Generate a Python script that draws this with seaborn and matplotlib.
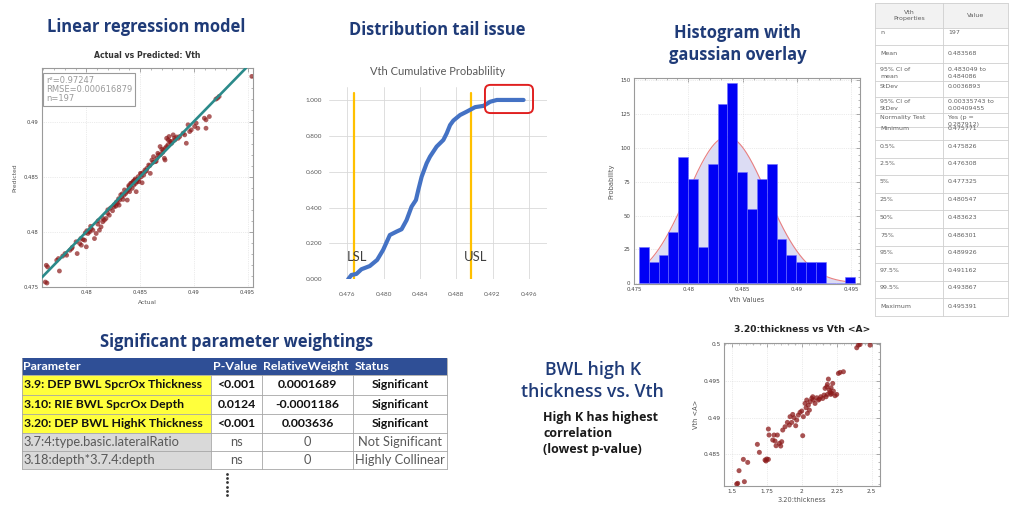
import numpy as np
import pandas as pd
import matplotlib
matplotlib.use("Agg")
import matplotlib.pyplot as plt
from matplotlib.patches import Rectangle, FancyBboxPatch
from matplotlib.ticker import MultipleLocator, FuncFormatter, AutoMinorLocator
import seaborn as sns

# ---------------- data ----------------
# Actual vs predicted Vth from the linear regression model
actual_vth = [
    0.47619, 0.47634, 0.47628, 0.47640, 0.47741, 0.47750, 0.47725, 0.47802, 0.47817, 0.47848,
    0.47863, 0.47915, 0.47939, 0.47954, 0.47970, 0.47985, 0.48000, 0.48015, 0.48031, 0.48046,
    0.48061, 0.48076, 0.48092, 0.48122, 0.48137, 0.48107, 0.48153, 0.48168, 0.48183, 0.48198,
    0.48214, 0.48244, 0.48259, 0.48275, 0.48290, 0.48305, 0.48311, 0.48329, 0.48342, 0.48351,
    0.48366, 0.48381, 0.48390, 0.48397, 0.48403, 0.48412, 0.48427, 0.48433, 0.48442, 0.48451,
    0.48458, 0.48464, 0.48473, 0.48482, 0.48488, 0.48503, 0.48512, 0.48519, 0.48534, 0.48549,
    0.48564, 0.48580, 0.48595, 0.48610, 0.48625, 0.48641, 0.48656, 0.48665, 0.48671, 0.48686,
    0.48702, 0.48717, 0.48726, 0.48732, 0.48747, 0.48747, 0.48763, 0.48769, 0.48778, 0.48793,
    0.48808, 0.48824, 0.48854, 0.48869, 0.48900, 0.48915, 0.48930, 0.48946, 0.48961, 0.48976,
    0.49007, 0.49022, 0.49037, 0.49098, 0.49113, 0.49113, 0.49144, 0.49205, 0.49220, 0.49235,
    0.49539, 0.47990, 0.48005, 0.48020, 0.48040, 0.48110, 0.48150, 0.48200, 0.48225, 0.48260,
    0.48280, 0.48300, 0.48320, 0.48335, 0.48355, 0.48375, 0.48395, 0.48405, 0.48420, 0.48440,
    0.48455, 0.48470, 0.48490, 0.48510, 0.48525, 0.48545, 0.48560, 0.48590, 0.48620, 0.48650,
    0.48690, 0.48710, 0.48735, 0.48760, 0.48790, 0.48820, 0.48840, 0.47905, 0.47950, 0.47870,
    0.47780,
]
predicted_vth = [
    0.47545, 0.47536, 0.47697, 0.47682, 0.47758, 0.47645, 0.47742, 0.47803, 0.47788, 0.47833,
    0.47848, 0.47803, 0.47894, 0.47879, 0.47930, 0.47924, 0.47864, 0.47985, 0.48000, 0.48030,
    0.48015, 0.47939, 0.47985, 0.48015, 0.48045, 0.48070, 0.48091, 0.48106, 0.48121, 0.48167,
    0.48151, 0.48191, 0.48227, 0.48233, 0.48258, 0.48242, 0.48288, 0.48318, 0.48294, 0.48333,
    0.48348, 0.48288, 0.48379, 0.48409, 0.48364, 0.48439, 0.48394, 0.48454, 0.48424, 0.48470,
    0.48439, 0.48364, 0.48470, 0.48500, 0.48454, 0.48530, 0.48500, 0.48445, 0.48515, 0.48545,
    0.48576, 0.48606, 0.48530, 0.48651, 0.48682, 0.48636, 0.48667, 0.48712, 0.48697, 0.48773,
    0.48748, 0.48742, 0.48667, 0.48651, 0.48773, 0.48848, 0.48833, 0.48864, 0.48818, 0.48803,
    0.48879, 0.48833, 0.48848, 0.48864, 0.48894, 0.48879, 0.48803, 0.48970, 0.48909, 0.48924,
    0.48955, 0.48985, 0.48939, 0.49030, 0.49015, 0.48939, 0.49045, 0.49203, 0.49212, 0.49227,
    0.49409, 0.47990, 0.48010, 0.48005, 0.48050, 0.48100, 0.48125, 0.48200, 0.48215, 0.48245,
    0.48270, 0.48300, 0.48335, 0.48345, 0.48380, 0.48365, 0.48420, 0.48400, 0.48440, 0.48460,
    0.48480, 0.48455, 0.48480, 0.48525, 0.48535, 0.48560, 0.48555, 0.48600, 0.48630, 0.48640,
    0.48700, 0.48720, 0.48760, 0.48790, 0.48820, 0.48850, 0.48860, 0.47910, 0.47940, 0.47860,
    0.47780,
]
fit_stats = ["r\u00b2=0.97247", "RMSE=0.000616879", "n=197"]

# Cumulative probability of Vth with spec limits
cdf_vth = [0.4761, 0.47647, 0.47702, 0.47757, 0.47849, 0.4793, 0.47996, 0.4807, 0.48144, 0.48199,
           0.48254, 0.48309, 0.48357, 0.48383, 0.4842, 0.48475, 0.48512, 0.48585, 0.48659, 0.48696,
           0.48733, 0.48769, 0.48843, 0.48917, 0.49009, 0.49101, 0.49174, 0.49248, 0.49542]
cdf_prob = [0.000, 0.024, 0.030, 0.056, 0.074, 0.108, 0.164, 0.247, 0.266, 0.279,
            0.330, 0.405, 0.442, 0.498, 0.572, 0.647, 0.684, 0.740, 0.777, 0.814,
            0.860, 0.885, 0.916, 0.935, 0.960, 0.967, 0.990, 1.000, 1.000]
spec_limits = {"LSL": 0.4768, "USL": 0.4896}

# Histogram bar heights over 22 equal bins
hist_heights = [26.5, 15.7, 20.9, 37.6, 93.4, 76.7, 26.5, 87.7, 132.0, 148.0, 82.3,
                54.5, 76.7, 87.7, 32.4, 20.9, 15.7, 15.7, 15.7, 0.0, 0.0, 4.9]
hist_range = (0.47546, 0.49537)

# Summary statistics table
prop_names = ["n", "Mean", "95% CI of\nmean", "StDev", "95% CI of\nStDev", "Normality Test",
              "Minimum", "0.5%", "2.5%", "5%", "25%", "50%", "75%", "95%", "97.5%", "99.5%",
              "Maximum"]
prop_values = ["197", "0.483568", "0.483049 to\n0.484086", "0.0036893",
               "0.00335743 to\n0.00409455", "Yes (p =\n0.287912)", "0.475771", "0.475826",
               "0.476308", "0.477325", "0.480547", "0.483623", "0.486301", "0.489926",
               "0.491162", "0.493867", "0.495391"]
vth_mean = 0.483568
vth_stdev = 0.0036893

# Parameter weightings table
param_header = ["Parameter", "P-Value", "RelativeWeight", "Status"]
param_names = ["3.9: DEP BWL SpcrOx Thickness", "3.10: RIE BWL SpcrOx Depth",
               "3.20: DEP BWL HighK Thickness", "3.7:4:type.basic.lateralRatio",
               "3.18:depth*3.7.4:depth"]
param_pvalues = ["<0.001", "0.0124", "<0.001", "ns", "ns"]
param_weights = ["0.0001689", "-0.0001186", "0.003636", "0", "0"]
param_status = ["Significant", "Significant", "Significant", "Not Significant",
                "Highly Collinear"]

# High-K thickness vs Vth
thickness_320 = [1.5357, 1.5429, 1.5905, 1.5524, 1.5833, 1.6143, 1.6833, 1.6976, 1.7619, 1.7667,
                 1.7381, 1.7500, 1.7619, 1.7452, 1.7929, 1.8095, 1.8024, 1.8262, 1.8167, 1.8405,
                 1.8500, 1.8571, 1.8643, 1.8810, 1.8976, 1.9119, 1.9286, 1.9167, 1.9357, 1.9452,
                 1.9571, 1.9643, 1.9762, 1.9881, 2.0000, 2.0119, 2.0071, 2.0310, 2.0238, 2.0357,
                 2.0476, 2.0405, 2.0548, 2.0595, 2.0714, 2.0786, 2.0833, 2.0952, 2.1071, 2.1190,
                 2.1262, 2.1357, 2.1500, 2.1595, 2.1738, 2.1833, 2.1667, 2.1786, 2.1833, 2.1905,
                 2.1976, 2.2024, 2.2071, 2.2143, 2.2262, 2.2381, 2.2500, 2.2214, 2.2095, 2.2619,
                 2.2738, 2.2976, 2.3929, 2.4048, 2.4167, 2.4881]
vth_a = [0.48097, 0.48106, 0.48129, 0.48279, 0.48433, 0.48392, 0.48638, 0.48529, 0.48847, 0.48765,
         0.48424, 0.48438, 0.48433, 0.48411, 0.48697, 0.48683, 0.48765, 0.48765, 0.48619, 0.48651,
         0.48615, 0.48674, 0.48833, 0.48878, 0.48937, 0.48901, 0.48937, 0.49015, 0.49046, 0.49001,
         0.48892, 0.48969, 0.49037, 0.49074, 0.49092, 0.49015, 0.48756, 0.49137, 0.49196, 0.49242,
         0.49173, 0.49060, 0.49105, 0.49219, 0.49264, 0.49287, 0.49242, 0.49196, 0.49273, 0.49242,
         0.49255, 0.49287, 0.49264, 0.49310, 0.49287, 0.49319, 0.49401, 0.49423, 0.49455, 0.49528,
         0.49378, 0.49346, 0.49319, 0.49332, 0.49364, 0.49301, 0.49319, 0.49469, 0.49410, 0.49605,
         0.49619, 0.49628, 0.49955, 0.49991, 0.50000, 0.49991]

# ---------------- styling ----------------
sns.set_theme(style="white")
plt.rcParams["font.family"] = ["DejaVu Sans"]

W, H = 1014, 508
fig = plt.figure(figsize=(W / 100, H / 100), dpi=100)
fig.patch.set_facecolor("white")

canvas = fig.add_axes([0, 0, 1, 1])
canvas.set_xlim(0, W)
canvas.set_ylim(H, 0)
canvas.axis("off")


def place(x0, y0, x1, y1):
    return fig.add_axes([x0 / W, 1 - y1 / H, (x1 - x0) / W, (y1 - y0) / H])


def trim(v, _=None):
    return f"{v:.3f}".rstrip("0").rstrip(".")


def framed(ax, labelsize=3.8):
    for s in ax.spines.values():
        s.set_visible(True)
        s.set_color("#9a9a9a")
        s.set_linewidth(0.8)
    ax.tick_params(which="both", direction="in", top=True, right=True, color="#9a9a9a",
                   labelsize=labelsize, labelcolor="#444444", pad=2.5)
    ax.tick_params(which="major", length=3, width=0.6)
    ax.tick_params(which="minor", length=1.5, width=0.5)
    ax.xaxis.set_minor_locator(AutoMinorLocator(5))
    ax.yaxis.set_minor_locator(AutoMinorLocator(5))
    ax.grid(True, which="major", color="#d8d8d8", lw=0.5, ls=":")
    ax.set_axisbelow(True)


BLUE_TITLE = "#1f3b78"
TITLE_FONT = dict(family="Open Sans", fontweight="bold", fontsize=11.9, color=BLUE_TITLE,
                  ha="center", va="center")

canvas.text(146, 27, "Linear regression model", **TITLE_FONT)
canvas.text(437, 30, "Distribution tail issue", **TITLE_FONT)
canvas.text(738, 33, "Histogram with", **TITLE_FONT)
canvas.text(738, 55, "gaussian overlay", **TITLE_FONT)
canvas.text(237, 342, "Significant parameter weightings", **TITLE_FONT)
sub_font = dict(TITLE_FONT, fontweight="semibold", fontsize=12.8)
canvas.text(593, 370, "BWL high K", **sub_font)
canvas.text(592, 392, "thickness vs. Vth", **sub_font)
canvas.text(543, 411, "High K has highest\ncorrelation\n(lowest p-value)", family="Open Sans",
            fontweight="bold", fontsize=9.0, color="#1a1a1a", ha="left", va="top",
            linespacing=1.3)

# ---------------- actual vs predicted ----------------
ax1 = place(42, 68, 253, 287)
sns.scatterplot(x=actual_vth, y=predicted_vth, ax=ax1, color="#8b1a1a", s=12, alpha=0.7,
                edgecolor="none", zorder=3)
ax1.axline((vth_mean, vth_mean), slope=1, color="#2b8a8a", lw=1.9, zorder=4)
ax1.set_xlim(0.47588, 0.4955)
ax1.set_ylim(0.475, 0.49485)
ax1.xaxis.set_major_locator(MultipleLocator(0.005))
ax1.yaxis.set_major_locator(MultipleLocator(0.005))
ax1.xaxis.set_major_formatter(FuncFormatter(trim))
ax1.yaxis.set_major_formatter(FuncFormatter(trim))
framed(ax1, labelsize=3.8)
ax1.set_xlabel("Actual", fontsize=4.3, color="#555555", labelpad=3)
ax1.set_ylabel("Predicted", fontsize=4.3, color="#555555", labelpad=4)
ax1.set_title("Actual vs Predicted: Vth", fontsize=5.6, fontweight="bold", color="#333333",
              pad=7)
ax1.text(0.02, 0.965, "\n".join(fit_stats), transform=ax1.transAxes, va="top", ha="left",
         fontsize=6, color="#9a9a9a", linespacing=1.05, zorder=5,
         bbox=dict(boxstyle="square,pad=0.35", fc="white", ec="#9a9a9a", lw=0.8))

# ---------------- cumulative probability ----------------
ax2 = place(329, 87.4, 547, 279.3)
ax2.set_facecolor("white")
sns.lineplot(x=cdf_vth, y=cdf_prob, ax=ax2, color="#4472c4", lw=3.0, sort=False,
             solid_capstyle="round", zorder=4)
ax2.set_xlim(0.474, 0.498)
ax2.set_ylim(0, 1.07)
for name, lim in spec_limits.items():
    ax2.axvline(lim, ymin=0, ymax=1.04 / 1.07, color="#ffc000", lw=1.6, zorder=3)
    ax2.text(lim - 0.0008, 0.123, name, fontsize=9.4, family="Lato", color="#404040",
             ha="left", va="center", zorder=5)
ax2.xaxis.set_major_locator(MultipleLocator(0.004))
ax2.set_yticks(np.arange(0, 1.0001, 0.2))
ax2.xaxis.set_major_formatter(FuncFormatter(lambda v, _: f"{v:.3f}"))
ax2.yaxis.set_major_formatter(FuncFormatter(lambda v, _: f"{v:.3f}"))
for s in ax2.spines.values():
    s.set_visible(False)
ax2.grid(True, color="#d9d9d9", lw=0.6)
ax2.set_axisbelow(True)
ax2.tick_params(length=0, labelsize=4.6, labelcolor="#595959", pad=5)
ax2.tick_params(axis="x", pad=9)
for t in ax2.get_xticklabels() + ax2.get_yticklabels():
    t.set_family("Lato")
ax2.set_title("Vth Cumulative Probablility", fontsize=8, family="Lato", color="#595959",
              pad=9)
# highlight the upper tail
xs_px = 218 / 0.024
ys_px = 179.3 / 1.0
tail = FancyBboxPatch((0.49117, 0.927), 0.00529, 0.157,
                      boxstyle="round,pad=0,rounding_size=0.0006",
                      mutation_aspect=xs_px / ys_px, fc="none", ec="#e02020", lw=1.4,
                      clip_on=False, zorder=6)
ax2.add_patch(tail)

# ---------------- histogram ----------------
ax3 = place(634, 78.3, 860, 284)
n_bins = len(hist_heights)
bin_w = (hist_range[1] - hist_range[0]) / n_bins
centers = hist_range[0] + bin_w * (np.arange(n_bins) + 0.5)
bars = pd.DataFrame({"vth": centers, "height": hist_heights})
gx = np.linspace(centers[0] - 0.0001, hist_range[1], 200)
gy = np.exp(-0.5 * ((gx - vth_mean) / vth_stdev) ** 2) / (vth_stdev * np.sqrt(2 * np.pi))
ax3.fill_between(gx, gy, color="#dcdcf4", lw=0, zorder=1)
sns.lineplot(x=gx, y=gy, ax=ax3, color="#e88080", lw=0.8, zorder=1.5)
sns.histplot(data=bars, x="vth", weights="height", bins=n_bins, binrange=hist_range, ax=ax3,
             color="#0000f5", alpha=1, edgecolor="#7070ff", linewidth=0.4, zorder=2)
ax3.set_xlim(0.475, 0.4958)
ax3.set_ylim(-0.5, 151.3)
ax3.xaxis.set_major_locator(MultipleLocator(0.005))
ax3.yaxis.set_major_locator(MultipleLocator(25))
ax3.xaxis.set_major_formatter(FuncFormatter(trim))
framed(ax3, labelsize=3.9)
ax3.set_xlabel("Vth Values", fontsize=4.8, color="#555555", labelpad=3)
ax3.set_ylabel("Probability", fontsize=4.8, color="#555555", labelpad=4)

# ---------------- thickness vs Vth ----------------
ax4 = place(724, 343, 880, 486)
sns.scatterplot(x=thickness_320, y=vth_a, ax=ax4, color="#8b1a1a", s=13, alpha=0.75,
                edgecolor="none", zorder=3)
ax4.set_xlim(1.445, 2.559)
ax4.set_ylim(0.4807, 0.5002)
ax4.xaxis.set_major_locator(MultipleLocator(0.25))
ax4.yaxis.set_major_locator(MultipleLocator(0.005))
ax4.xaxis.set_major_formatter(FuncFormatter(trim))
ax4.yaxis.set_major_formatter(FuncFormatter(trim))
framed(ax4, labelsize=4.2)
ax4.set_xlabel("3.20:thickness", fontsize=4.8, color="#555555", labelpad=2)
ax4.set_ylabel("Vth <A>", fontsize=4.8, color="#555555", labelpad=3)
ax4.set_title("3.20:thickness vs Vth <A>", fontsize=6.6, fontweight="bold", color="#222222",
              pad=8)

# ---------------- summary statistics table ----------------
row_lines = [3, 28, 45, 63, 81, 97, 113, 127, 140, 158, 175, 193, 210, 228, 246, 263, 281, 298,
             316]
text_y = [33, 54, 70, 87, 102, 118, 129, 147, 164, 182, 200, 218, 236, 253, 271, 288, 307]
col_x = [875, 943, 1008]
canvas.add_patch(Rectangle((col_x[0], row_lines[0]), col_x[2] - col_x[0],
                           row_lines[1] - row_lines[0], fc="#f2f2f2", ec="none"))
for y in row_lines:
    canvas.plot([col_x[0], col_x[2]], [y, y], color="#cfcfcf", lw=0.6)
for x in col_x:
    canvas.plot([x, x], [row_lines[0], row_lines[-1]], color="#cfcfcf", lw=0.6)
tab_font = dict(fontsize=4.5, color="#606060", linespacing=1.45)
canvas.text(909, 15.5, "Vth\nProperties", ha="center", va="center", **tab_font)
canvas.text(976, 15.5, "Value", ha="center", va="center", **tab_font)
for name, val, y in zip(prop_names, prop_values, text_y):
    canvas.text(880, y - 3, name, ha="left", va="top", **tab_font)
    canvas.text(948, y - 3, val, ha="left", va="top", **tab_font)

# ---------------- parameter weightings table ----------------
p_rows = [358, 375, 395, 414, 433, 451, 469]
p_cols = [22, 211, 262, 353, 447]
canvas.add_patch(Rectangle((p_cols[0], p_rows[0]), p_cols[-1] - p_cols[0], p_rows[1] - p_rows[0],
                           fc="#2f4f96", ec="none"))
for i in range(len(param_names)):
    top, bot = p_rows[i + 1], p_rows[i + 2]
    fill = "#ffff3c" if param_status[i] == "Significant" else "#d9d9d9"
    canvas.add_patch(Rectangle((p_cols[0], top), p_cols[1] - p_cols[0], bot - top, fc=fill,
                               ec="none"))
for y in p_rows[1:]:
    canvas.plot([p_cols[0], p_cols[-1]], [y, y], color="#a6a6a6", lw=0.6)
for x in p_cols:
    y_start = p_rows[0] if x in (p_cols[0], p_cols[-1]) else p_rows[1]
    canvas.plot([x, x], [y_start, p_rows[-1]], color="#a6a6a6", lw=0.6)
hdr_font = dict(family="Lato", fontweight="bold", fontsize=8.9, color="white", va="center")
hy = (p_rows[0] + p_rows[1]) / 2
for label, x in zip(param_header, p_cols[:4]):
    canvas.text(x + 1.5, hy, label, ha="left", **hdr_font)
for i in range(len(param_names)):
    cy = (p_rows[i + 1] + p_rows[i + 2]) / 2
    sig = param_status[i] == "Significant"
    f = dict(family="Lato", fontsize=8.8 if sig else 9.3, va="center",
             fontweight="bold" if sig else "normal", color="#111111" if sig else "#595959")
    canvas.text(p_cols[0] + 1.5, cy, param_names[i], ha="left", **f)
    canvas.text((p_cols[1] + p_cols[2]) / 2, cy, param_pvalues[i], ha="center", **f)
    canvas.text((p_cols[2] + p_cols[3]) / 2, cy, param_weights[i], ha="center", **f)
    canvas.text((p_cols[3] + p_cols[4]) / 2, cy, param_status[i], ha="center", **f)
canvas.scatter([227] * 6, [474, 478.2, 482.4, 486.6, 490.8, 495], s=4, color="#333333",
               linewidths=0, marker="o")

fig.savefig("out.png", dpi=100, facecolor="white")
